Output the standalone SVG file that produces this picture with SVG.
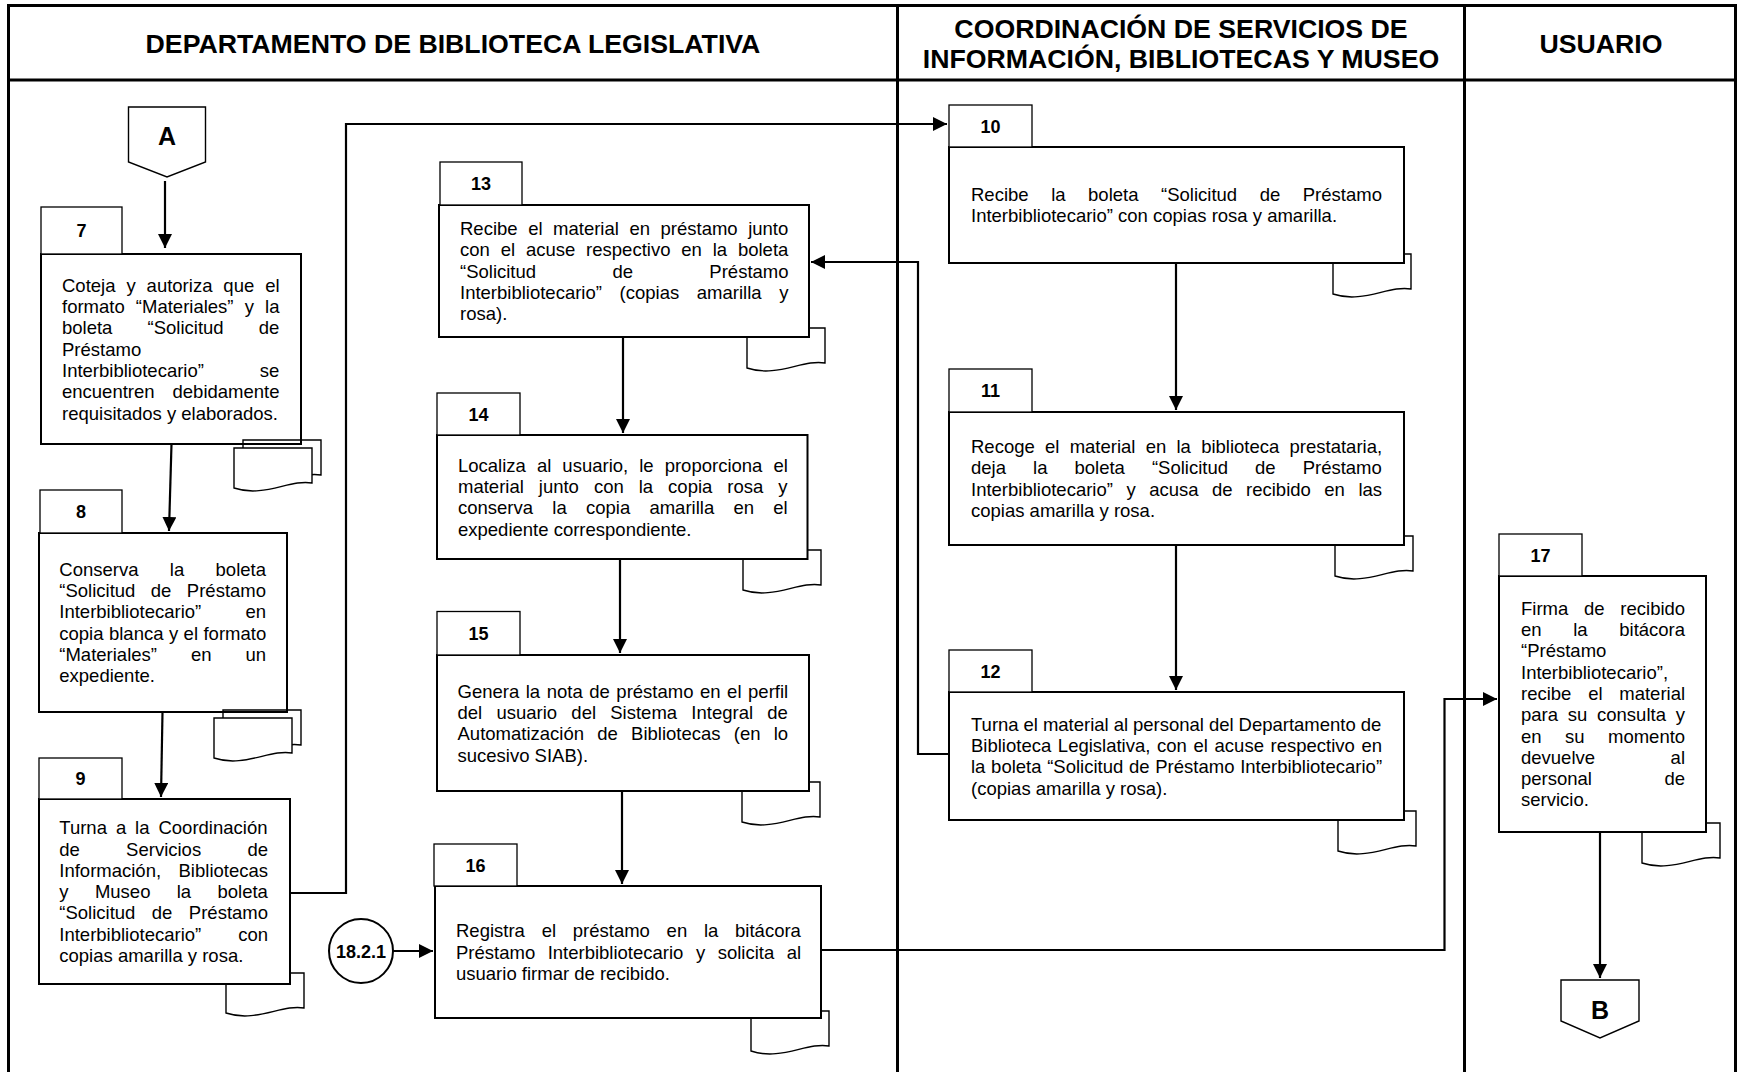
<svg xmlns="http://www.w3.org/2000/svg" width="1737" height="1072" viewBox="0 0 1737 1072">
<defs>
<style>
.lane{fill:none;stroke:#000;stroke-width:3}
.box{fill:#fff;stroke:#000;stroke-width:2}
.tab{fill:#fff;stroke:#000;stroke-width:1.3}
.doc{fill:#fff;stroke:#000;stroke-width:1.4}
.docb{fill:none;stroke:#000;stroke-width:1.4}
.con{fill:none;stroke:#000;stroke-width:2.2}
.pent{fill:#fff;stroke:#000;stroke-width:1.4}
.t{font-family:"Liberation Sans",Arial,sans-serif;font-size:18.5px;fill:#000}
.n{font-family:"Liberation Sans",Arial,sans-serif;font-size:18px;font-weight:bold;text-anchor:middle;fill:#000}
.h{font-family:"Liberation Sans",Arial,sans-serif;font-size:26.7px;font-weight:bold;text-anchor:middle;fill:#000}
.c{font-family:"Liberation Sans",Arial,sans-serif;font-size:25px;font-weight:bold;text-anchor:middle;fill:#000}
</style>
<marker id="ah" markerUnits="userSpaceOnUse" markerWidth="15" markerHeight="14" refX="14" refY="7" orient="auto"><path d="M0,0 L14,7 L0,14 z" fill="#000"/></marker>
<path id="docshape" d="M0,0H78V35C56,31 30,50 0,40Z"/>
</defs>
<rect width="1737" height="1072" fill="#fff"/>

<g id="lanes">
<path class="lane" d="M8.5,1080V5.5H1735.5V1080M8.5,80H1735.5M897.5,5.5V1080M1464.5,5.5V1080"/>
<text class="h" x="453" y="52.5">DEPARTAMENTO DE BIBLIOTECA LEGISLATIVA</text>
<text class="h" x="1181" y="38">COORDINACIÓN DE SERVICIOS DE</text>
<text class="h" x="1181" y="68">INFORMACIÓN, BIBLIOTECAS Y MUSEO</text>
<text class="h" x="1601" y="52.5">USUARIO</text>
</g>

<g id="nodeA">
<path class="pent" d="M128.5,107H205.5V162L167,177L128.5,162Z"/>
<text class="c" x="167" y="145">A</text>
</g>

<g id="n7">
<rect class="box" x="41" y="254" width="260" height="190"/>
<use href="#docshape" class="docb" x="243" y="440"/>
<use href="#docshape" class="doc" x="234" y="448"/>
<rect class="tab" x="41" y="207" width="81" height="47"/>
<text class="n" x="81.5" y="237">7</text>
<text class="t" x="62" y="291.7" style="word-spacing:5.8px">Coteja y autoriza que el</text>
<text class="t" x="62" y="313" style="word-spacing:6px">formato “Materiales” y la</text>
<text class="t" x="62" y="334.3" style="word-spacing:30px">boleta “Solicitud de</text>
<text class="t" x="62" y="355.6">Préstamo</text>
<text class="t" x="62" y="376.9" style="word-spacing:50.8px">Interbibliotecario” se</text>
<text class="t" x="62" y="398.2" style="word-spacing:12.8px">encuentren debidamente</text>
<text class="t" x="62" y="419.5">requisitados y elaborados.</text>
</g>

<g id="n8">
<rect class="box" x="39" y="533" width="248" height="179"/>
<use href="#docshape" class="docb" x="223" y="710"/>
<use href="#docshape" class="doc" x="214" y="718"/>
<rect class="tab" x="40" y="490" width="82" height="43"/>
<text class="n" x="81" y="518">8</text>
<text class="t" x="59.3" y="575.8" style="word-spacing:26.2px">Conserva la boleta</text>
<text class="t" x="59.3" y="597.1" style="word-spacing:10.3px">“Solicitud de Préstamo</text>
<text class="t" x="59.3" y="618.4" style="word-spacing:39.1px">Interbibliotecario” en</text>
<text class="t" x="59.3" y="639.7" style="word-spacing:0.3px">copia blanca y el formato</text>
<text class="t" x="59.3" y="661" style="word-spacing:28.8px">“Materiales” en un</text>
<text class="t" x="59.3" y="682.3">expediente.</text>
</g>

<g id="n9">
<use href="#docshape" class="doc" x="226" y="973"/>
<rect class="box" x="39" y="799" width="251" height="185"/>
<rect class="tab" x="39" y="758" width="83" height="41"/>
<text class="n" x="80.5" y="785">9</text>
<text class="t" x="59.3" y="834.2" style="word-spacing:3.8px">Turna a la Coordinación</text>
<text class="t" x="59.3" y="855.5" style="word-spacing:41.1px">de Servicios de</text>
<text class="t" x="59.3" y="876.8" style="word-spacing:12.3px">Información, Bibliotecas</text>
<text class="t" x="59.3" y="898.1" style="word-spacing:21.2px">y Museo la boleta</text>
<text class="t" x="59.3" y="919.4" style="word-spacing:11.3px">“Solicitud de Préstamo</text>
<text class="t" x="59.3" y="940.7" style="word-spacing:31.9px">Interbibliotecario” con</text>
<text class="t" x="59.3" y="962">copias amarilla y rosa.</text>
</g>

<g id="n10">
<use href="#docshape" class="doc" x="1333" y="254"/>
<rect class="box" x="949" y="147" width="455" height="116"/>
<rect class="tab" x="949" y="105" width="83" height="42"/>
<text class="n" x="990.5" y="132.5">10</text>
<text class="t" x="971" y="200.9" style="word-spacing:17.4px">Recibe la boleta “Solicitud de Préstamo</text>
<text class="t" x="971" y="222.2">Interbibliotecario” con copias rosa y amarilla.</text>
</g>

<g id="n11">
<use href="#docshape" class="doc" x="1335" y="536"/>
<rect class="box" x="949" y="412" width="455" height="133"/>
<rect class="tab" x="949" y="369" width="83" height="43"/>
<text class="n" x="990.5" y="397">11</text>
<text class="t" x="971" y="453.1" style="word-spacing:5.1px">Recoge el material en la biblioteca prestataria,</text>
<text class="t" x="971" y="474.4" style="word-spacing:21.9px">deja la boleta “Solicitud de Préstamo</text>
<text class="t" x="971" y="495.7" style="word-spacing:8.35px">Interbibliotecario” y acusa de recibido en las</text>
<text class="t" x="971" y="517">copias amarilla y rosa.</text>
</g>

<g id="n12">
<use href="#docshape" class="doc" x="1338" y="811"/>
<rect class="box" x="949" y="692" width="455" height="128"/>
<rect class="tab" x="949" y="650" width="83" height="42"/>
<text class="n" x="990.5" y="677.5">12</text>
<text class="t" x="971" y="730.6" style="word-spacing:-0.2px">Turna el material al personal del Departamento de</text>
<text class="t" x="971" y="751.9" style="word-spacing:1.5px">Biblioteca Legislativa, con el acuse respectivo en</text>
<text class="t" x="971" y="773.2" style="word-spacing:0.56px">la boleta “Solicitud de Préstamo Interbibliotecario”</text>
<text class="t" x="971" y="794.5">(copias amarilla y rosa).</text>
</g>

<g id="n13">
<use href="#docshape" class="doc" x="747" y="328"/>
<rect class="box" x="439" y="205" width="370" height="132"/>
<rect class="tab" x="440" y="162" width="82" height="43"/>
<text class="n" x="481" y="190">13</text>
<text class="t" x="460" y="235" style="word-spacing:5.4px">Recibe el material en préstamo junto</text>
<text class="t" x="460" y="256.3" style="word-spacing:5.7px">con el acuse respectivo en la boleta</text>
<text class="t" x="460" y="277.6" style="word-spacing:71.2px">“Solicitud de Préstamo</text>
<text class="t" x="460" y="298.9" style="word-spacing:12.5px">Interbibliotecario” (copias amarilla y</text>
<text class="t" x="460" y="320.2">rosa).</text>
</g>

<g id="n14">
<use href="#docshape" class="doc" x="743" y="550"/>
<rect class="box" x="437" y="435" width="370.5" height="124"/>
<rect class="tab" x="437" y="393" width="83" height="42"/>
<text class="n" x="478.5" y="420.5">14</text>
<text class="t" x="458" y="471.6" style="word-spacing:5.9px">Localiza al usuario, le proporciona el</text>
<text class="t" x="458" y="492.9" style="word-spacing:9.85px">material junto con la copia rosa y</text>
<text class="t" x="458" y="514.2" style="word-spacing:14.1px">conserva la copia amarilla en el</text>
<text class="t" x="458" y="535.5">expediente correspondiente.</text>
</g>

<g id="n15">
<use href="#docshape" class="doc" x="742" y="782"/>
<rect class="box" x="437" y="655" width="372" height="136"/>
<rect class="tab" x="437" y="611.5" width="83" height="43.5"/>
<text class="n" x="478.5" y="639.8">15</text>
<text class="t" x="457.5" y="697.6" style="word-spacing:1.4px">Genera la nota de préstamo en el perfil</text>
<text class="t" x="457.5" y="718.9" style="word-spacing:9.1px">del usuario del Sistema Integral de</text>
<text class="t" x="457.5" y="740.2" style="word-spacing:8.1px">Automatización de Bibliotecas (en lo</text>
<text class="t" x="457.5" y="761.5">sucesivo SIAB).</text>
</g>

<g id="n16">
<use href="#docshape" class="doc" x="751" y="1011"/>
<rect class="box" x="435" y="886" width="386" height="132"/>
<rect class="tab" x="434" y="844" width="83" height="42"/>
<text class="n" x="475.5" y="871.5">16</text>
<text class="t" x="456" y="937.3" style="word-spacing:11.6px">Registra el préstamo en la bitácora</text>
<text class="t" x="456" y="958.6" style="word-spacing:7.35px">Préstamo Interbibliotecario y solicita al</text>
<text class="t" x="456" y="979.9">usuario firmar de recibido.</text>
</g>

<g id="n17">
<use href="#docshape" class="doc" x="1642" y="823"/>
<rect class="box" x="1499" y="576" width="207" height="256"/>
<rect class="tab" x="1499" y="534" width="83" height="42"/>
<text class="n" x="1540.5" y="561.5">17</text>
<text class="t" x="1521" y="614.7" style="word-spacing:10.6px">Firma de recibido</text>
<text class="t" x="1521" y="636" style="word-spacing:26.5px">en la bitácora</text>
<text class="t" x="1521" y="657.3">“Préstamo</text>
<text class="t" x="1521" y="678.6">Interbibliotecario”,</text>
<text class="t" x="1521" y="699.9" style="word-spacing:11.6px">recibe el material</text>
<text class="t" x="1521" y="721.2" style="word-spacing:4.6px">para su consulta y</text>
<text class="t" x="1521" y="742.5" style="word-spacing:18.3px">en su momento</text>
<text class="t" x="1521" y="763.8" style="word-spacing:70.4px">devuelve al</text>
<text class="t" x="1521" y="785.1" style="word-spacing:67.3px">personal de</text>
<text class="t" x="1521" y="806.4">servicio.</text>
</g>

<g id="n18_2_1">
<circle cx="361" cy="951" r="32" fill="#fff" stroke="#000" stroke-width="2"/>
<text class="n" x="361" y="957.5">18.2.1</text>
</g>

<g id="nodeB">
<path class="pent" d="M1561,980H1639V1021L1600,1038L1561,1021Z"/>
<text class="c" x="1600" y="1019">B</text>
</g>

<g id="connectors">
<path class="con" marker-end="url(#ah)" d="M165,181V248"/>
<path class="con" marker-end="url(#ah)" d="M171.5,444L169,531"/>
<path class="con" marker-end="url(#ah)" d="M162.5,712L161,797"/>
<path class="con" marker-end="url(#ah)" d="M290,893H346V124H947"/>
<path class="con" marker-end="url(#ah)" d="M1176,263V410"/>
<path class="con" marker-end="url(#ah)" d="M1176,545V690"/>
<path class="con" marker-end="url(#ah)" d="M949,754H918V262H811"/>
<path class="con" marker-end="url(#ah)" d="M623,337V433"/>
<path class="con" marker-end="url(#ah)" d="M620,559V653"/>
<path class="con" marker-end="url(#ah)" d="M622,791V884"/>
<path class="con" marker-end="url(#ah)" d="M393,951H433"/>
<path class="con" marker-end="url(#ah)" d="M821,950H1444.5V699H1497"/>
<path class="con" marker-end="url(#ah)" d="M1600,832V978"/>
</g>
</svg>
